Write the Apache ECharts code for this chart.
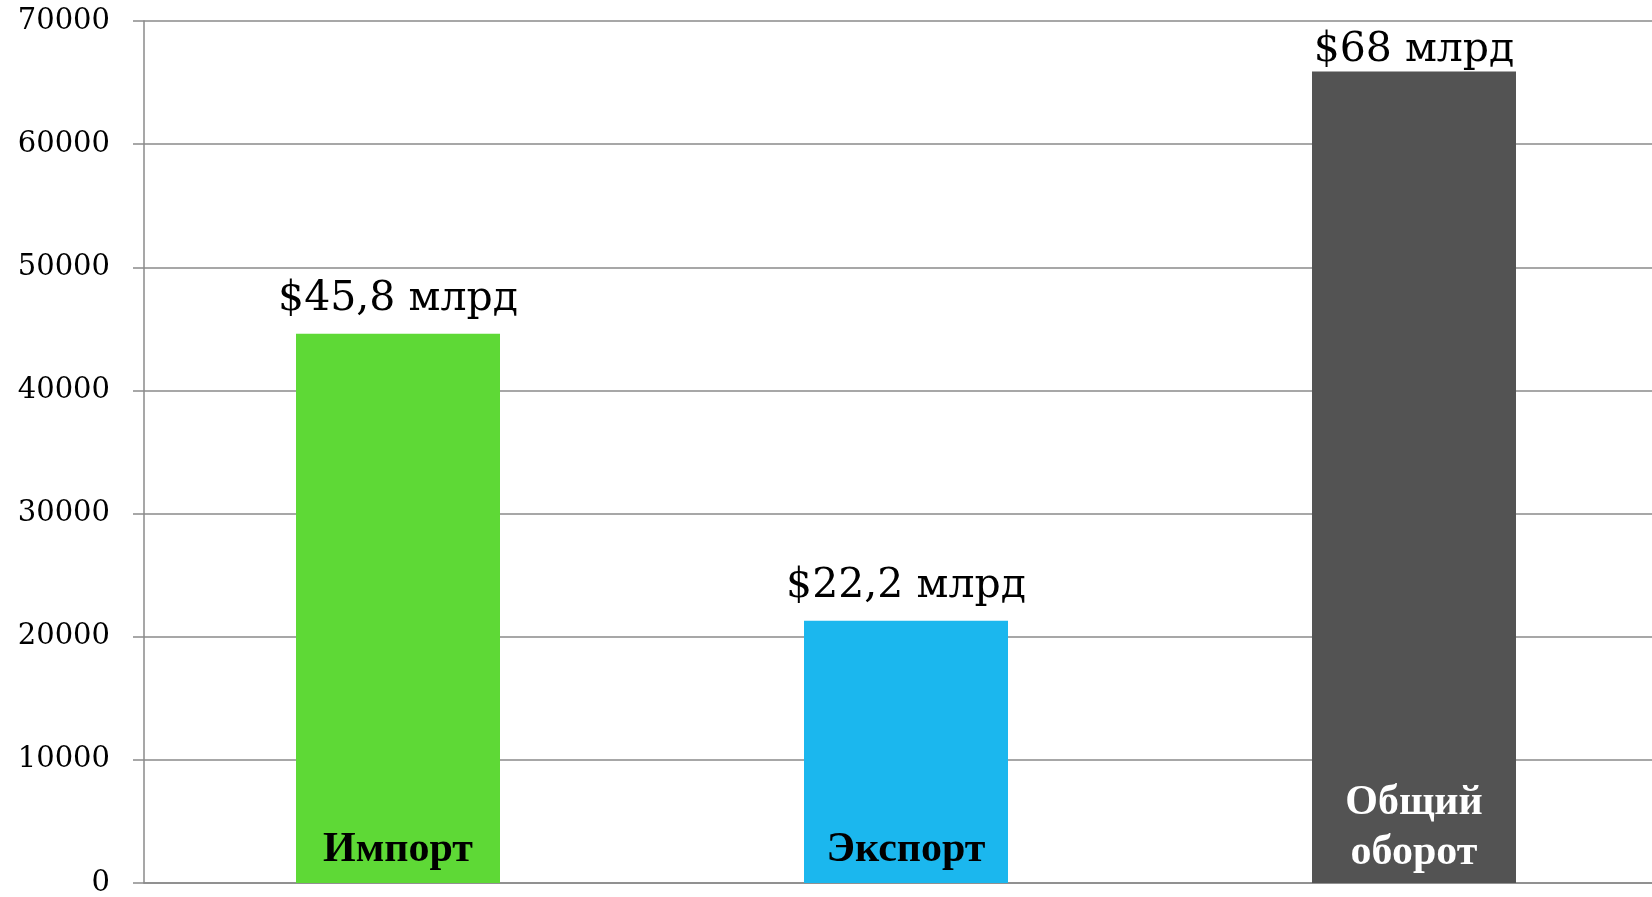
<!DOCTYPE html>
<html>
<head>
<meta charset="utf-8">
<script src="https://cdn.jsdelivr.net/npm/echarts@6/dist/echarts.min.js"></script>
<style>
html,body{margin:0;padding:0;background:#fff;}
#chart{width:1652px;height:897px;}
</style>
</head>
<body>
<div id="chart"></div>
<script>
const categories = ['Импорт', 'Экспорт', 'Общий\nоборот'];
const values = [44600, 21300, 65900];
const valueLabels = ['$45,8 млрд', '$22,2 млрд', '$68 млрд'];
const barColors = ['#5ED936', '#1BB7EE', '#535353'];
const categoryLabelColors = ['#000000', '#000000', '#FFFFFF'];
const yTicks = { min: 0, max: 70000, interval: 10000 };

const chart = echarts.init(document.getElementById('chart'));

const mainData = values.map((v, i) => ({
  value: v,
  itemStyle: { color: barColors[i] },
  label: { formatter: valueLabels[i], distance: i === 2 ? 1 : 14 }
}));

const nameData = values.map((v, i) => ({
  value: v,
  label: {
    color: categoryLabelColors[i],
    distance: categories[i].indexOf('\n') >= 0 ? 4.5 : 8
  }
}));

chart.setOption({
  animation: false,
  grid: { left: 144, width: 1524, top: 21, bottom: 14, containLabel: false, outerBoundsMode: 'none' },
  xAxis: {
    type: 'category',
    data: categories,
    axisLine: { show: true, lineStyle: { color: '#8a8a8a', width: 1.5 } },
    axisTick: { show: false },
    axisLabel: { show: false }
  },
  yAxis: {
    type: 'value',
    min: yTicks.min,
    max: yTicks.max,
    interval: yTicks.interval,
    axisLine: { show: true, lineStyle: { color: '#8a8a8a', width: 1.5 } },
    axisTick: { show: true, length: 11, lineStyle: { color: '#8a8a8a', width: 1.5 } },
    splitLine: { show: true, lineStyle: { color: '#8a8a8a', width: 1.5 } },
    axisLabel: {
      margin: 34,
      color: '#000',
      fontFamily: 'DejaVu Serif',
      fontSize: 29,
      padding: [6, 0, 0, 0],
      formatter: v => String(v)
    }
  },
  series: [
    {
      type: 'bar',
      data: mainData,
      barWidth: 204,
      label: {
        show: true,
        position: 'top',
        color: '#000',
        fontFamily: 'DejaVu Serif',
        fontSize: 41
      }
    },
    {
      type: 'bar',
      data: nameData,
      barWidth: 204,
      barGap: '-100%',
      itemStyle: { color: 'rgba(0,0,0,0)' },
      label: {
        show: true,
        position: 'insideBottom',
        formatter: '{b}',
        fontFamily: 'Liberation Serif',
        fontWeight: 'bold',
        fontSize: 42,
        lineHeight: 50,
        letterSpacing: -1
      }
    }
  ]
});
</script>
</body>
</html>
